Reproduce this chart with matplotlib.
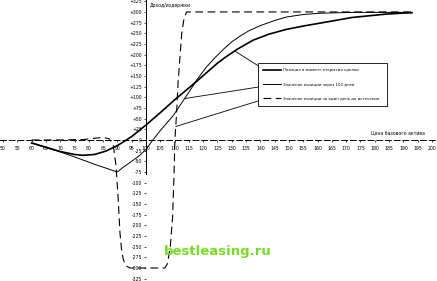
import numpy as np
import matplotlib
matplotlib.use("Agg")
import matplotlib.pyplot as plt

# position value vs underlying price
price_now = [60, 65, 70, 75, 78, 82, 86, 90, 92, 95, 100, 105, 110, 115, 119, 125, 128,
             132, 137.5, 143, 149, 155, 161, 167, 172, 178, 184, 189, 193]
value_now = [-7, -17, -27, -34, -36, -34, -26, -13, -5, 8, 35, 64, 94, 122, 145, 180, 195,
             213, 234, 248, 259, 267, 274, 281, 287, 291, 295, 297, 298]

price_100d = [60, 65, 70, 73, 78, 82, 86, 89, 90, 92, 95, 98, 100, 102.4, 105, 109.5, 112,
              115, 118, 121, 124, 127, 130, 133, 136, 140, 145, 149, 155, 161, 172, 193]
value_100d = [-7, -18, -28, -35, -47, -57, -66, -73, -75, -64, -50, -35, -22, 0, 22, 57, 82,
              112, 143, 170, 192, 212, 230, 244, 256, 268, 280, 288, 294, 297, 299, 299]

price_1d = [60, 70, 78, 82, 85, 87, 88.5, 89.5, 90.3, 90.9, 91.5, 92.1, 93, 94.4, 106.6,
            107.5, 108.5, 109.3, 109.8, 110.1, 110.7, 111.2, 112.5, 113.3, 114.2, 194]
value_1d = [0, 0, 1, 4, 6, 3, -10, -60, -141, -218, -260, -281, -295, -300, -300,
            -290, -250, -180, -80, 0, 63, 133, 250, 285, 300, 300]

labels = ["Позиция в момент открытия сделки",
          "Значение позиции через 100 дней",
          "Значение позиции за один день до истечения"]

x_ticks = np.arange(50, 201, 5)
y_ticks = np.arange(-325, 326, 25)

fig = plt.figure(figsize=(4.37, 2.81), dpi=100)
ax = fig.add_axes([0, 0, 1, 1])
ax.set_xlim(48.95, 201.75)
ax.set_ylim(-330.5, 328)

l_now, = ax.plot(price_now, value_now, color="black", lw=1.2)
l_100, = ax.plot(price_100d, value_100d, color="black", lw=0.7)
l_1d, = ax.plot(price_1d, value_1d, color="black", lw=0.8, dashes=(7, 4))

# axes cross at (100, 0) like the original spreadsheet chart
ax.spines["top"].set_visible(False)
ax.spines["right"].set_visible(False)
ax.spines["left"].set_position(("data", 100))
ax.spines["bottom"].set_position(("data", 0))
ax.spines["left"].set_linewidth(0.7)
ax.spines["left"].set_bounds(-80, 328)
ax.spines["bottom"].set_linewidth(0.7)
ax.spines["bottom"].set_linestyle((0, (6, 3)))

ax.set_xticks(x_ticks)
ax.set_xticklabels([str(v) for v in x_ticks])
ax.set_yticks(y_ticks)
ax.set_yticklabels([("+%d" % v if v > 0 else str(v)) for v in y_ticks])
ax.tick_params(axis="x", labelsize=3.3, length=1.5, width=0.5, pad=3)
ax.tick_params(axis="y", labelsize=3.3, length=1.5, width=0.5, pad=1.5)

ax.text(150 / 437, 1 - 3 / 281, "Доход/издержки", transform=ax.transAxes,
        fontsize=3.3, ha="left", va="top")
ax.text(425 / 437, 1 - 133 / 281, "Цена базового актива", transform=ax.transAxes,
        fontsize=3.3, ha="right", va="center")

leg = ax.legend([l_now, l_100, l_1d], labels, loc="upper left", mode="expand",
                bbox_to_anchor=(258 / 437, 1 - 108 / 281, 129 / 437, 45 / 281),
                fontsize=2.8, handlelength=4.6, handletextpad=0.5, labelspacing=2.6,
                borderpad=1.4, borderaxespad=0, fancybox=False, framealpha=1)
leg.get_frame().set_edgecolor("black")
leg.get_frame().set_linewidth(0.6)

# leader lines from the legend to the curves
targets = [(131, np.interp(131, price_now, value_now), 265 / 437, 1 - 70 / 281),
           (113.5, np.interp(113.5, price_100d, value_100d), 265 / 437, 1 - 86 / 281),
           (110.4, np.interp(110.4, price_1d, value_1d), 258 / 437, 1 - 101 / 281)]
for tx, ty, fx, fy in targets:
    ax.annotate("", xy=(tx, ty), xytext=(fx, fy), textcoords="axes fraction",
                arrowprops=dict(arrowstyle="-", lw=0.6, color="black",
                                shrinkA=0, shrinkB=0))

ax.text(218 / 437, 1 - 252 / 281, "bestleasing.ru", transform=ax.transAxes,
        fontsize=9.5, fontweight="bold", color="#77dd22", ha="center", va="center")

fig.savefig("out.png", dpi=100)
